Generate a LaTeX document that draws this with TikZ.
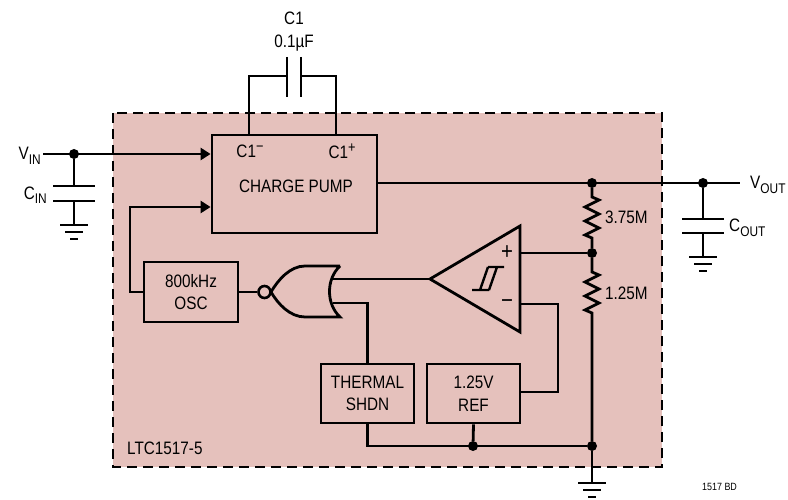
\documentclass[tikz,border=0pt]{standalone}
\usepackage{fontspec}
\setmainfont{Liberation Sans}[FakeStretch=0.85]
\usetikzlibrary{arrows.meta}
\definecolor{chip}{RGB}{229,193,188}
\tikzset{
  wire/.style={line width=2.8pt},
  blk/.style={draw, line width=2.8pt, inner sep=0pt, align=center, font=\fontsize{18}{22.5}\selectfont},
  lbl/.style={inner sep=0pt, font=\fontsize{18}{22}\selectfont},
  big/.style={inner sep=0pt, font=\fontsize{24}{24}\selectfont},
  sml/.style={inner sep=0pt, font=\fontsize{10.5}{12}\selectfont},
  dot/.style={circle, fill=black, inner sep=0pt, minimum size=10pt},
  arr/.style={wire, -{Triangle[length=10pt,width=12pt]}},
  gnd/.pic={
    \draw[wire] (-14,0) -- (14,0);
    \draw[wire] (-9,7) -- (9,7);
    \draw[wire] (-4,14) -- (4,14);
  }
}
\newcommand{\sbs}[1]{\raisebox{-4.5pt}{\fontsize{14}{14}\selectfont #1}}
\newcommand{\sps}[1]{\raisebox{6pt}{\fontsize{15}{15}\selectfont #1}}
\begin{document}
\begin{tikzpicture}[x=1pt,y=-1pt]
\useasboundingbox (0,0) rectangle (788,500);
% chip outline
\fill[chip] (113,113) rectangle (662,467);
\draw[line width=2.8pt, dash pattern=on 10pt off 6pt] (113,113) rectangle (662,467);

% blocks
\node[blk, minimum width=165pt, minimum height=98pt] (cp) at (294.5,184) {};
\node[lbl] (cpt) at (296,186) {CHARGE PUMP};
\node[lbl] (c1m) at (250,151) {C1\sps{−}};
\node[lbl] (c1p) at (342,151) {C1\sps{+}};
\node[blk, minimum width=94pt, minimum height=60pt] (osc) at (191,292) {800kHz\\OSC};
\node[blk, minimum width=93pt, minimum height=59pt] (tsd) at (367.5,393.5) {THERMAL\\SHDN};
\node[blk, minimum width=93pt, minimum height=59pt] (ref) at (473.5,393.5) {1.25V\\REF};

% comparator
\coordinate (cmpo) at (430,279);
\coordinate (cmpp) at (520,253);
\coordinate (cmpm) at (520,304);
\draw[wire, line join=miter] (cmpo) -- (520,226) -- (520,332) -- cycle;
\draw[line width=2.4pt] (472,290) -- (489,290) (480,290) -- (488,267) (489,290) -- (497,267) (488,267) -- (504,267);
\node[big] (plus) at (507,253) {+};
\node[big] (minus) at (507,304) {−};

% NOR gate (pointing left)
\draw[wire] (340,266) -- (305,266) .. controls (290,266) and (278,280) .. (271,292)
  .. controls (278,304) and (290,317) .. (305,317) -- (340,317)
  .. controls (326,304) and (326,279) .. (340,266);
\node[circle, draw, line width=2.6pt, minimum size=12pt, inner sep=0pt] (bub) at (264.5,292) {};
\coordinate (gin1) at (333,279);
\coordinate (gin2) at (333,303);

% input VIN
\coordinate (vinl) at (43,154);
\node[dot] (vind) at (74,154) {};
\node[lbl, anchor=east] (vinlab) at (41,156) {V\sbs{IN}};
\draw[arr] (vinl) -- (cp.west |- vinl);
\coordinate (cin1) at (74,186);
\coordinate (cin2) at (74,201);
\coordinate (cing) at (74,225);
\draw[wire] (vind) -- (cin1);
\draw[wire] ([xshift=-21pt]cin1) -- ([xshift=21pt]cin1);
\draw[wire] ([xshift=-21pt]cin2) -- ([xshift=21pt]cin2);
\draw[wire] (cin2) -- (cing);
\pic at (cing) {gnd};
\node[lbl, anchor=east] (cinlab) at (47,195) {C\sbs{IN}};

% flying capacitor C1
\coordinate (fa) at (249,76);
\coordinate (fb) at (336,76);
\coordinate (pa) at (287,76);
\coordinate (pb) at (301,76);
\draw[wire] (cp.north -| fa) -- (fa) -- (pa);
\draw[wire] (cp.north -| fb) -- (fb) -- (pb);
\draw[wire] (287,57) -- (287,97);
\draw[wire] (301,57) -- (301,97);
\node[lbl] (c1lab) at (294,18) {C1};
\node[lbl] (c1val) at (294,43) {0.1µF};

% VOUT
\coordinate (voutr) at (740,183);
\node[dot] (rtop) at (592,183) {};
\node[dot] (voutd) at (703,183) {};
\draw[wire] (cp.east |- voutr) -- (voutr);
\node[lbl, anchor=west] (voutlab) at (750,185) {V\sbs{OUT}};
\coordinate (co1) at (703,219);
\coordinate (co2) at (703,233);
\coordinate (cog) at (703,257);
\draw[wire] (voutd) -- (co1);
\draw[wire] ([xshift=-21pt]co1) -- ([xshift=21pt]co1);
\draw[wire] ([xshift=-21pt]co2) -- ([xshift=21pt]co2);
\draw[wire] (co2) -- (cog);
\pic at (cog) {gnd};
\node[lbl, anchor=west] (coutlab) at (729,228) {C\sbs{OUT}};

% divider
\node[dot] (rmid) at (592,253) {};
\node[dot] (gbot) at (592,446) {};
\node[dot] (refd) at (473,446) {};
\draw[wire, line join=miter] (rtop) -- (592,197) -- (599,200) -- (585,207) -- (599,214) -- (585,221) -- (599,228) -- (585,235) -- (592,238) -- (rmid);
\draw[wire, line join=miter] (rmid) -- (592,272) -- (599,275) -- (585,282) -- (599,289) -- (585,296) -- (599,303) -- (585,310) -- (592,313) -- (gbot);
\node[lbl, anchor=west] (r1lab) at (605,217) {3.75M};
\node[lbl, anchor=west] (r2lab) at (605,293) {1.25M};
\coordinate (gnd3) at (592,483);
\draw[wire] (gbot) -- (gnd3);
\pic at (gnd3) {gnd};

% internal connections
\draw[wire] (cmpp) -- (rmid);
\draw[wire] (cmpm) -- (558,304) -- (558,392) -- (ref.east |- 0,392);
\draw[wire] (cmpo) -- (gin1);
\draw[wire] (gin2) -- (tsd.north |- gin2) -- (tsd.north);
\draw[wire] (tsd.south) -- (tsd.south |- gbot) -- (gbot);
\draw[wire] (ref.south) -- (refd);
\draw[wire] (osc.east) -- (bub.west);
\draw[arr] (osc.west) -- (130,292) -- (130,207) -- (cp.west |- 0,207);

% labels
\node[lbl, anchor=west] (part) at (127,448) {LTC1517-5};
\node[sml, anchor=west] (bd) at (702,487) {1517 BD};
\end{tikzpicture}
\end{document}
